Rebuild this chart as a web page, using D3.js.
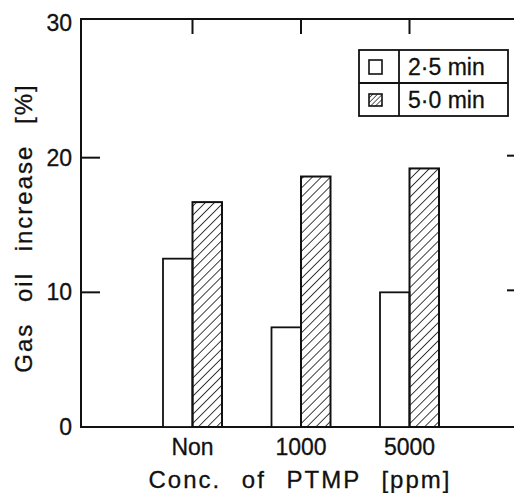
<!DOCTYPE html>
<html>
<head>
<meta charset="utf-8">
<script src="https://cdn.jsdelivr.net/npm/d3@7"></script>
<style>
  body { margin: 0; background: #fff; }
  text { font-family: "Liberation Sans", Arial, sans-serif; fill: #111; stroke: #111; stroke-width: 0.3px; }
</style>
</head>
<body>
<script>
var width = 514,
    height = 493;

var categories = ["Non", "1000", "5000"];
var series = ["2\u00b75 min", "5\u00b70 min"];
var values25 = [12.5, 7.4, 10.0];
var values50 = [16.7, 18.6, 19.2];
var yTicks = [0, 10, 20, 30];

var svg = d3.select("body").append("svg")
    .attr("width", width)
    .attr("height", height);

var defs = svg.append("defs");
function hatch(id, step, sw) {
    defs.append("pattern")
        .attr("id", id)
        .attr("patternUnits", "userSpaceOnUse")
        .attr("width", step).attr("height", step)
        .attr("patternTransform", "rotate(45)")
      .append("line")
        .attr("x1", 0).attr("y1", 0).attr("x2", 0).attr("y2", step)
        .attr("stroke", "#111").attr("stroke-width", sw);
}
hatch("hatch", 6.4, 1.6);
hatch("hatchSmall", 3.4, 1.3);

var x = d3.scaleLinear().domain([0, 4]).range([84, 518]);
var y = d3.scaleLinear().domain([0, 30]).range([427, 23]);
var frameL = 81, frameR = 525, frameT = 19;
var barW = 29.5;

// frame
var frame = svg.append("g").attr("stroke", "#111").attr("stroke-width", 2).attr("fill", "none");
frame.append("path").attr("d", "M" + frameR + "," + frameT + "H" + frameL + "V" + y(0) + "H" + frameR);

// y ticks (left + right, inward)
frame.selectAll(".lt").data([10, 20]).enter().append("line")
    .attr("x1", frameL).attr("x2", frameL + 19)
    .attr("y1", function (d) { return y(d); }).attr("y2", function (d) { return y(d); });
frame.selectAll(".rt").data([10, 20]).enter().append("line")
    .attr("x1", frameR - 18).attr("x2", frameR)
    .attr("y1", function (d) { return y(d) - 2; }).attr("y2", function (d) { return y(d) - 2; });
// top ticks at categories
frame.selectAll(".tt").data(categories).enter().append("line")
    .attr("x1", function (d, i) { return x(i + 1); }).attr("x2", function (d, i) { return x(i + 1); })
    .attr("y1", frameT).attr("y2", frameT + 15);

svg.selectAll(".ylab").data(yTicks).enter().append("text")
    .attr("x", 72)
    .attr("y", function (d) { return y(d) + 8; })
    .attr("text-anchor", "end")
    .style("font-size", "23px")
    .text(function (d) { return d; });

// bars
svg.selectAll(".b25").data(values25).enter().append("rect")
    .attr("x", function (d, i) { return x(i + 1) - barW; })
    .attr("y", function (d) { return y(d); })
    .attr("width", barW)
    .attr("height", function (d) { return y(0) - y(d); })
    .attr("fill", "#fff").attr("stroke", "#111").attr("stroke-width", 1.8);

svg.selectAll(".b50").data(values50).enter().append("rect")
    .attr("x", function (d, i) { return x(i + 1); })
    .attr("y", function (d) { return y(d); })
    .attr("width", barW)
    .attr("height", function (d) { return y(0) - y(d); })
    .attr("fill", "url(#hatch)").attr("stroke", "#111").attr("stroke-width", 2);

// category labels
svg.selectAll(".xlab").data(categories).enter().append("text")
    .attr("x", function (d, i) { return x(i + 1); })
    .attr("y", 455)
    .attr("text-anchor", "middle")
    .style("font-size", "23px")
    .text(function (d) { return d; });

svg.append("text")
    .attr("x", 300).attr("y", 488)
    .attr("text-anchor", "middle")
    .style("font-size", "24px")
    .style("letter-spacing", "2px")
    .style("word-spacing", "12px")
    .text("Conc. of PTMP [ppm]");

svg.append("text")
    .attr("transform", "translate(32,228) rotate(-90)")
    .attr("text-anchor", "middle")
    .style("font-size", "24px")
    .style("letter-spacing", "2px")
    .style("word-spacing", "12px")
    .text("Gas oil increase [%]");

// legend
var lg = svg.append("g").attr("stroke", "#111").attr("stroke-width", 1.8);
lg.append("rect").attr("x", 359).attr("y", 50).attr("width", 149).attr("height", 66).attr("fill", "#fff");
lg.append("line").attr("x1", 359).attr("x2", 508).attr("y1", 83).attr("y2", 83);
lg.append("line").attr("x1", 399).attr("x2", 399).attr("y1", 50).attr("y2", 116);
lg.append("rect").attr("x", 369).attr("y", 60).attr("width", 13).attr("height", 14).attr("fill", "#fff").attr("stroke-width", 1.6);
lg.append("rect").attr("x", 369).attr("y", 94).attr("width", 13).attr("height", 12).attr("fill", "url(#hatchSmall)").attr("stroke-width", 1.6);
svg.selectAll(".lgt").data(series).enter().append("text")
    .attr("x", 408)
    .attr("y", function (d, i) { return 75 + i * 33; })
    .style("font-size", "23px")
    .text(function (d) { return d; });
</script>
</body>
</html>
